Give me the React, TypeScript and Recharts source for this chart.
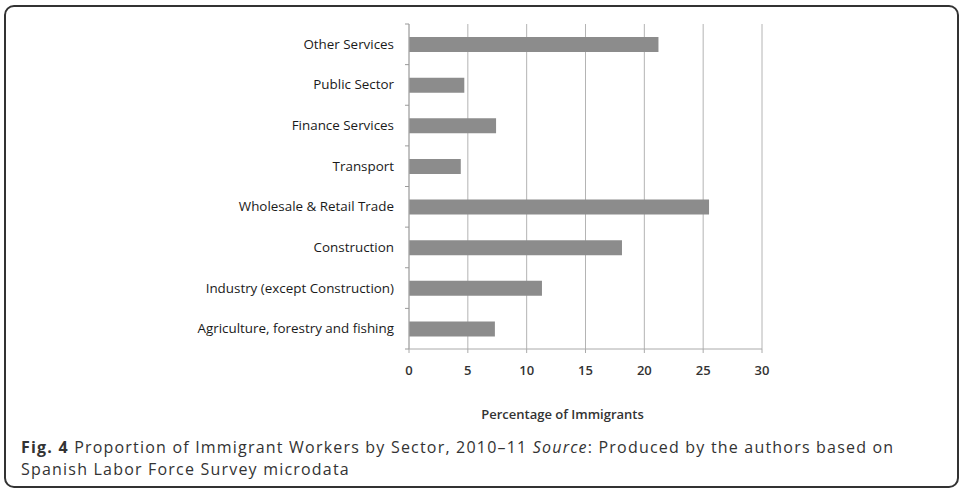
import React from 'react';
import { BarChart, Bar, XAxis, YAxis, CartesianGrid } from 'recharts';

const sectors = [
  'Other Services',
  'Public Sector',
  'Finance Services',
  'Transport',
  'Wholesale & Retail Trade',
  'Construction',
  'Industry (except Construction)',
  'Agriculture, forestry and fishing',
];
const shares = [21.2, 4.7, 7.4, 4.4, 25.5, 18.1, 11.3, 7.3];
const xTicks = [0, 5, 10, 15, 20, 25, 30];

const data = sectors.map((sector, i) => ({ sector, share: shares[i] }));

const PLOT_TOP = 24;
const PLOT_BOTTOM = 349;
const STEP = (PLOT_BOTTOM - PLOT_TOP) / sectors.length;

// category label plus the small boundary tick marks Excel puts between bands
const SectorTick = ({ x, y, payload, index }: any) => (
  <g>
    <line x1={x + 4} x2={x + 8} y1={y - STEP / 2} y2={y - STEP / 2} stroke="#9a9a9a" />
    {index === sectors.length - 1 && (
      <line x1={x + 4} x2={x + 8} y1={y + STEP / 2} y2={y + STEP / 2} stroke="#9a9a9a" />
    )}
    <text x={x - 7} y={y} dy={4.5} textAnchor="end" fontSize={13.4} fill="#1a1a1a" fontFamily="'Open Sans', sans-serif">
      {payload.value}
    </text>
  </g>
);

export default function App() {
  return (
    <div
      style={{
        position: 'absolute',
        left: 0,
        top: 0,
        width: 962,
        height: 495,
        background: '#fff',
        fontFamily: "'Open Sans', sans-serif",
      }}
    >
      <div
        style={{
          position: 'absolute',
          left: 4,
          top: 5,
          width: 951,
          height: 479,
          border: '2px solid #333',
          borderRadius: 10,
        }}
      />
      <div style={{ position: 'absolute', left: 0, top: 0 }}>
        <BarChart
          width={962}
          height={440}
          data={data}
          layout="vertical"
          margin={{ top: PLOT_TOP, right: 200, bottom: 21, left: 0 }}
        >
          <CartesianGrid horizontal={false} stroke="#b4b4b4" />
          <XAxis
            type="number"
            domain={[0, 30]}
            ticks={xTicks}
            height={70}
            tickSize={4}
            tickMargin={13}
            stroke="#aaaaaa"
            tick={{ fontSize: 13, fill: '#333', fontWeight: 600 }}
            label={{
              value: 'Percentage of Immigrants',
              position: 'insideBottom',
              offset: 0,
              dx: -23,
              fontSize: 13,
              fontWeight: 600,
              fill: '#333',
            }}
          />
          <YAxis
            type="category"
            dataKey="sector"
            width={409}
            stroke="#aaaaaa"
            tickLine={false}
            interval={0}
            tick={<SectorTick />}
          />
          <Bar dataKey="share" fill="#8c8c8c" barSize={15} isAnimationActive={false} />
        </BarChart>
      </div>
      <div
        style={{
          position: 'absolute',
          left: 21,
          top: 436,
          fontSize: 16,
          lineHeight: '22px',
          letterSpacing: 1.2,
          color: '#333',
          whiteSpace: 'nowrap',
        }}
      >
        <div>
          <b>Fig. 4</b> Proportion of Immigrant Workers by Sector, 2010–11 <i>Source</i>: Produced by the authors based on
        </div>
        <div>Spanish Labor Force Survey microdata</div>
      </div>
    </div>
  );
}
